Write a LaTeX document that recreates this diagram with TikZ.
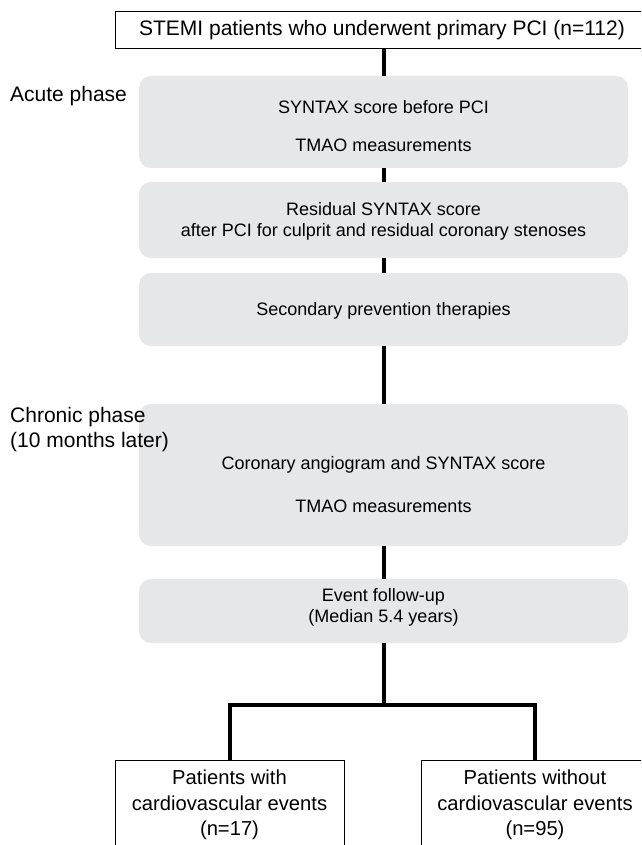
\documentclass[tikz,border=0pt]{standalone}
\usepackage{fontspec}
\setmainfont{Liberation Sans}
\definecolor{boxgray}{RGB}{230,231,232}
\begin{document}
\begin{tikzpicture}[x=1pt,y=-1pt,
  graybox/.style={draw=none, fill=boxgray, rounded corners=12pt, minimum width=489pt, inner sep=0pt},
  whitebox/.style={draw=black, line width=1pt, fill=white, inner sep=0pt},
  conn/.style={line width=4pt, draw=black, line join=miter},
  txt/.style={inner sep=0pt, align=center, font=\fontsize{18}{21}\selectfont},
  bigtxt/.style={inner sep=0pt, align=center, font=\fontsize{21}{25}\selectfont},
  bottxt/.style={inner sep=0pt, align=center, font=\fontsize{20.2}{25.5}\selectfont},
  sidetxt/.style={inner sep=0pt, align=left, anchor=west, font=\fontsize{21}{25}\selectfont}]
\clip (0,0) rectangle (641,845);
\fill[white] (0,0) rectangle (641,845);

% top box
\node[whitebox, minimum width=534pt, minimum height=37pt] (top) at (382,30.5) {};
\node[bigtxt] (toptxt) at (382,30) {STEMI patients who underwent primary PCI (n=112)};

% gray boxes
\node[graybox, minimum height=92pt] (b1) at (383.5,122) {};
\node[graybox, minimum height=76pt] (b2) at (383.5,220) {};
\node[graybox, minimum height=73pt] (b3) at (383.5,309.5) {};
\node[graybox, minimum height=142pt] (b4) at (383.5,475) {};
\node[graybox, minimum height=64pt] (b5) at (383.5,611) {};

% bottom boxes
\node[whitebox, minimum width=229pt, minimum height=140pt] (lb) at (229.5,830) {};
\node[whitebox, minimum width=228pt, minimum height=140pt] (rb) at (535,830) {};

% connectors
\draw[conn] (top.south -| b1.north) -- (b1.north);
\draw[conn] (b1.south) -- (b2.north);
\draw[conn] (b2.south) -- (b3.north);
\draw[conn] (b3.south) -- (b4.north);
\draw[conn] (b4.south) -- (b5.north);
\coordinate (split) at (383.5,705);
\draw[conn] (b5.south) -- (split);
\draw[conn] (lb.north) -- (lb.north |- split) -- (rb.north |- split) -- (rb.north);

% texts in gray boxes
\node[txt] (t1a) at (383.5,107) {SYNTAX score before PCI};
\node[txt] (t1b) at (383.5,145) {TMAO measurements};
\node[txt] (t2) at (383.5,221) {Residual SYNTAX score\\after PCI for culprit and residual coronary stenoses};
\node[txt] (t3) at (383.5,311) {Secondary prevention therapies};
\node[txt] (t4a) at (383.5,465) {Coronary angiogram and SYNTAX score};
\node[txt] (t4b) at (383.5,506) {TMAO measurements};
\node[txt] (t5) at (383.5,607) {Event follow-up\\(Median 5.4 years)};

% bottom texts
\node[bottxt] (lbt) at (229.5,805) {Patients with\\cardiovascular events\\(n=17)};
\node[bottxt] (rbt) at (535,805) {Patients without\\cardiovascular events\\(n=95)};

% side labels
\node[sidetxt] (acute) at (10,96) {Acute phase};
\node[sidetxt] (chronic) at (10,430) {Chronic phase\\(10 months later)};
\end{tikzpicture}
\end{document}
